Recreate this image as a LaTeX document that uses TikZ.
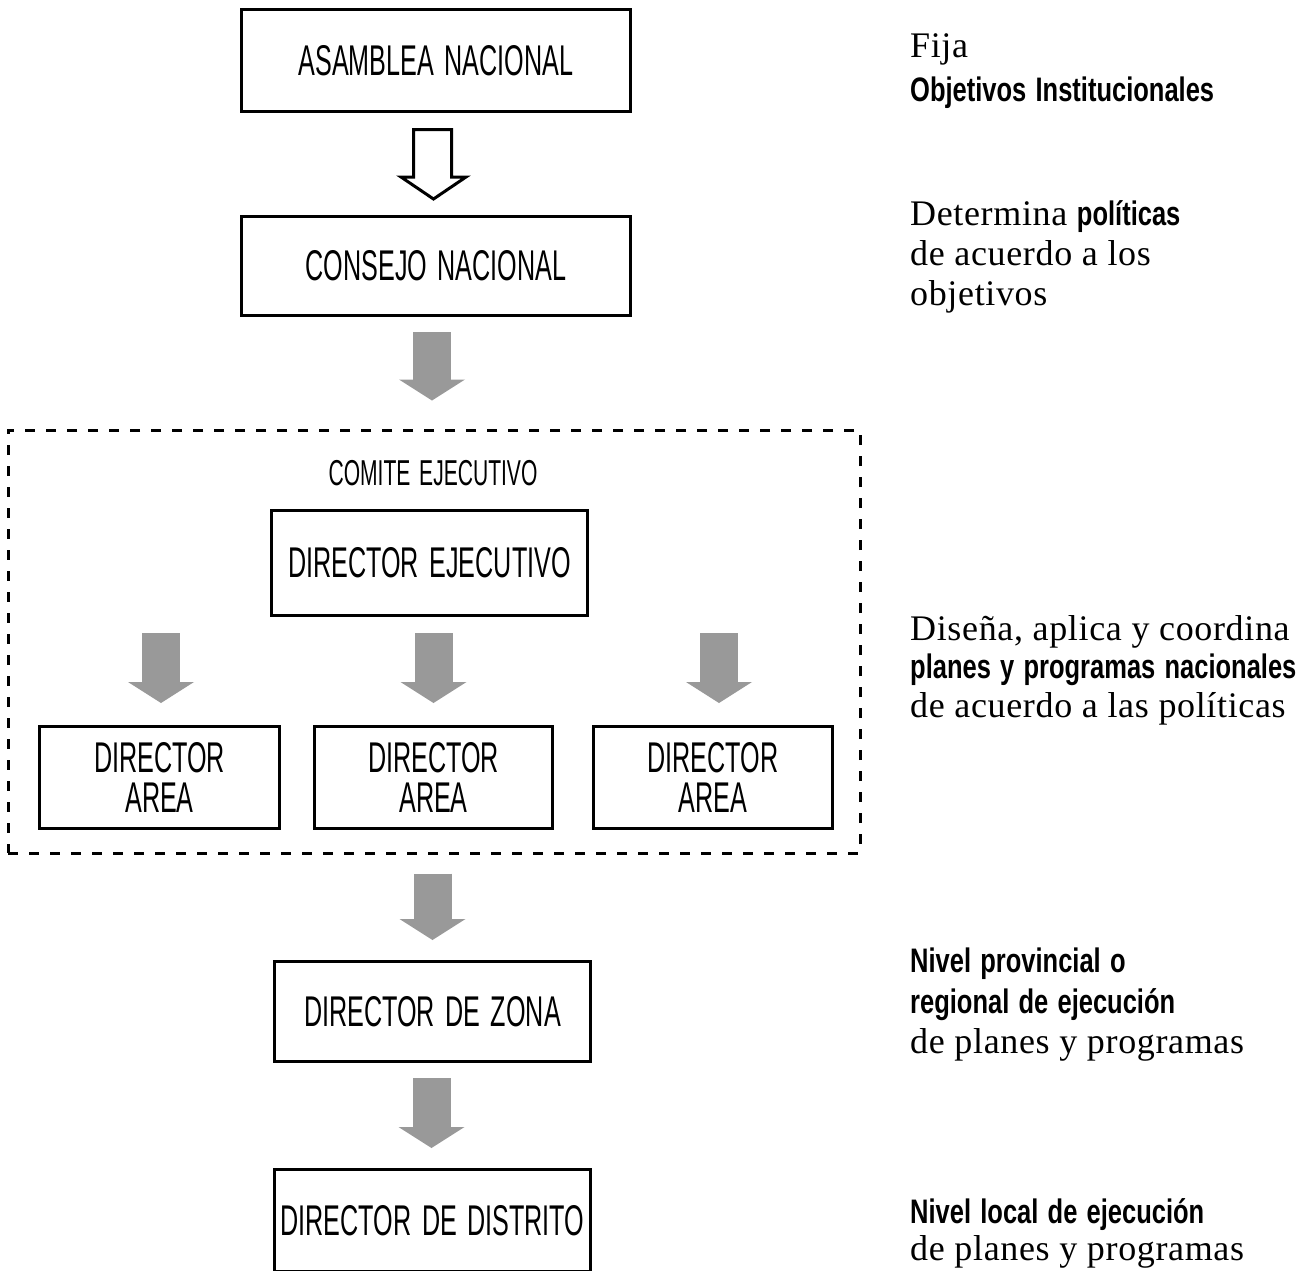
\documentclass[tikz,border=0pt]{standalone}
\usepackage{fontspec}
\setmainfont{Liberation Serif}[LetterSpace=1.8]
\newfontfamily\boxfont[FakeStretch=0.585,WordSpace=1.5]{Liberation Sans}
\newfontfamily\bcond[FakeStretch=0.75,WordSpace=1.3]{Liberation Sans}
\usetikzlibrary{arrows.meta,calc}
\definecolor{arrowgray}{RGB}{153,153,153}
\newcommand\bc[1]{{\bcond\bfseries\fontsize{34}{40}\selectfont #1}}
\tikzset{
  orgbox/.style={draw, line width=3pt, inner sep=0pt, align=center,
    font=\boxfont\fontsize{43}{40}\selectfont},
  dashbox/.style={draw, line width=3pt, dash pattern=on 10pt off 11pt, inner sep=0pt},
  grayarrow/.style={draw=arrowgray, line width=38pt,
    -{Triangle[width=66pt,length=21pt,line width=0pt]}},
  openarrow/.style={draw, line width=3pt, fill=white, line join=miter},
  rtext/.style={anchor=base west, inner sep=0pt, font=\fontsize{36}{40}\selectfont},
  comitelabel/.style={anchor=base, inner sep=0pt, font=\boxfont\fontsize{36}{40}\selectfont}
}
\begin{document}
\begin{tikzpicture}[x=1pt,y=-1pt]
\useasboundingbox (0,0) rectangle (1307,1270);
\fill[white] (0,0) rectangle (1307,1270);

% boxes
\node[orgbox, minimum width=389pt, minimum height=102pt] (asamblea) at (436,60.5) {ASAMBLEA NACIONAL};
\node[orgbox, minimum width=389pt, minimum height=99pt] (consejo) at (436,266) {CONSEJO NACIONAL};
\node[dashbox, minimum width=852pt, minimum height=423pt] (comite) at (434,641.5) {};
\node[comitelabel] (comitetxt) at (433,485) {COMITE EJECUTIVO};
\node[orgbox, minimum width=316pt, minimum height=105pt] (direj) at (429.5,563) {DIRECTOR EJECUTIVO};
\node[orgbox, minimum width=240pt, minimum height=102pt] (area1) at (159.5,777.5) {DIRECTOR\\AREA};
\node[orgbox, minimum width=238pt, minimum height=102pt] (area2) at (433.5,777.5) {DIRECTOR\\AREA};
\node[orgbox, minimum width=239pt, minimum height=102pt] (area3) at (713,777.5) {DIRECTOR\\AREA};
\node[orgbox, minimum width=316pt, minimum height=100pt] (zona) at (432.5,1011.5) {DIRECTOR DE ZONA};
\node[orgbox, minimum width=316pt, minimum height=102pt] (distrito) at (432.5,1220.5) {DIRECTOR DE DISTRITO};

% open arrow
\draw[openarrow] (413.5,129.5) -- (451.5,129.5) -- (451.5,177) -- (466,177)
  -- (433.5,199) -- (401,177) -- (413.5,177) -- cycle;

% gray arrows
\draw[grayarrow] ([xshift=-4pt,yshift=-15pt]consejo.south) -- ([xshift=-4pt,yshift=28pt]consejo.south |- comite.north);
\draw[grayarrow] ([xshift=1.5pt,yshift=-16pt]area1.north |- direj.south) -- ([xshift=1.5pt,yshift=22pt]area1.north);
\draw[grayarrow] ([yshift=-16pt]area2.north |- direj.south) -- ([yshift=22pt]area2.north);
\draw[grayarrow] ([xshift=6pt,yshift=-16pt]area3.north |- direj.south) -- ([xshift=6pt,yshift=22pt]area3.north);
\draw[grayarrow] ([yshift=-19pt]zona.north |- comite.south) -- ([yshift=20pt]zona.north);
\draw[grayarrow] ([xshift=-1pt,yshift=-15pt]zona.south) -- ([xshift=-1pt,yshift=20pt]distrito.north);

% right-hand texts
\node[rtext] (t1a) at (910,57) {Fija};
\node[rtext] (t1b) at (910,101) {\bc{Objetivos Institucionales}};
\node[rtext] (t2a) at (910,225) {Determina \bc{políticas}};
\node[rtext] (t2b) at (910,265) {de acuerdo a los};
\node[rtext] (t2c) at (910,305) {objetivos};
\node[rtext] (t3a) at (910,640) {Diseña, aplica y coordina};
\node[rtext] (t3b) at (910,678) {\bc{planes y programas nacionales}};
\node[rtext] (t3c) at (910,717) {de acuerdo a las políticas};
\node[rtext] (t4a) at (910,972) {\bc{Nivel provincial o}};
\node[rtext] (t4b) at (910,1013) {\bc{regional de ejecución}};
\node[rtext] (t4c) at (910,1053) {de planes y programas};
\node[rtext] (t5a) at (910,1223) {\bc{Nivel local de ejecución}};
\node[rtext] (t5b) at (910,1260) {de planes y programas};
\end{tikzpicture}
\end{document}
